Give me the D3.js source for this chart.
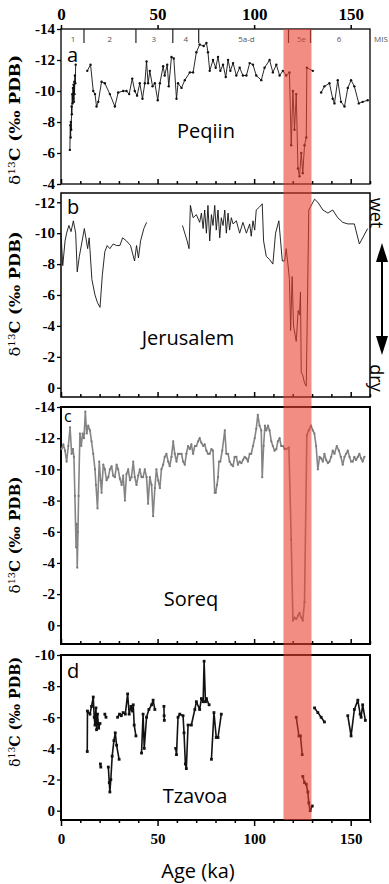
<!DOCTYPE html>
<html>
<head>
<meta charset="utf-8">
<script src="https://cdn.jsdelivr.net/npm/d3@7"></script>
<style>
  body { margin: 0; background: #fff; }
  svg { display: block; }
</style>
</head>
<body>
<div id="chart"></div>
<script>
// age (ka) and d13C values; null marks a gap in the record
const peqiinAge = [4.6, 4.8, 5.0, 5.1, 5.3, 5.5, 5.6, 5.8, 6.0, 6.2, 6.3, 6.5, 6.7, 6.9, 7.0, 7.2, 7.4, 7.6, null,
  13.6, 15.3, 16.7, 17.6, 18.4, 19.3, 21.0, 22.7, 25.3, 27.9, 29.6, 32.2, 33.9, 35.3, 36.9, 38.2, 39.4, 40.8, 42.2,
  43.4, 44.3, 45.1, 46.0, 47.4, 48.6, 50.1, 51.2, 52.9, 53.7, 55.0, 55.8, 57.2, 58.4, 59.8, 60.6, 62.4, 64.1, 66.7,
  68.4, 70.1, 71.8, 73.9, 75.3, 76.1, 77.0, 78.7, 80.1, 81.3, 82.5, 83.9, 85.3, 86.5, 87.7, 89.1, 90.8, 92.5, 94.2,
  96.0, 97.7, 99.4, 101.1, 103.7, 105.4, 108.0, 109.7, 111.5, 113.2, 114.9, 116.6, 118.3, 119.2, 120.1, 120.9, 121.8,
  122.7, 123.5, 124.4, 125.2, 126.1, 127.0, 127.3, 130.4, null,
  134.7, 136.4, 139.0, 140.7, 141.6, 143.3, 145.0, 146.8, 148.5, 150.2, 151.9, 154.2, 156.2, 158.8];
const peqiinD13C = [-6.2, -7.8, -7.0, -8.0, -7.5, -9.0, -8.5, -9.8, -9.2, -10.2, -9.5, -10.4, -9.3, -10.6, -9.8, -11.0, -10.5, -11.7, null,
  -11.3, -11.7, -10.0, -9.8, -9.0, -9.3, -10.6, -10.5, -9.8, -9.0, -9.9, -10.0, -10.0, -9.8, -10.8, -10.0, -9.7, -10.5, -9.5,
  -10.5, -11.9, -10.5, -11.3, -10.3, -10.5, -9.4, -10.5, -11.6, -11.0, -11.7, -10.3, -12.2, -12.1, -9.5, -10.5, -10.2, -10.7, -11.2,
  -11.2, -12.5, -13.0, -12.9, -13.1, -12.5, -11.3, -12.0, -11.5, -12.2, -11.3, -11.7, -10.9, -12.0, -11.3, -11.8, -11.0, -11.5, -11.0,
  -11.0, -11.8, -11.7, -11.0, -10.7, -11.5, -12.0, -11.2, -11.7, -11.0, -11.3, -11.0, -11.2, -6.5, -10.0, -7.5, -9.8,
  -5.0, -4.5, -6.0, -4.7, -6.5, -7.0, -11.5, -11.3, null,
  -9.9, -10.3, -10.5, -9.5, -9.2, -10.7, -9.3, -9.0, -10.2, -10.7, -10.3, -9.2, -9.3, -9.4];

const jerusalemAge = [0.0, 0.9, 2.1, 2.9, 4.1, 5.2, 6.4, 7.6, 8.4, 9.5, 12.1, 13.8, 14.6, 16.0, 17.6, 18.9, 20.2, 21.4, 22.7,
  23.9, 25.3, 27.0, 28.8, 30.5, 31.9, 33.9, 36.0, 38.1, 39.1, 40.1, 41.2, 42.9, 44.3, null,
  62.9, 64.1, 65.3, 66.3, 67.0, 68.4, 70.1, 71.8, 72.7, 73.6, 74.4, 75.3, 76.1, 77.0, 77.9, 78.7, 79.6, 80.4, 81.3, 82.2,
  83.0, 83.9, 84.8, 85.6, 86.5, 87.3, 88.2, 89.1, 90.8, 92.5, 94.2, 96.0, 97.7, 98.5, 99.4, 100.3, 101.1, 102.8, 104.2,
  104.9, 106.3, 108.0, 109.7, 111.1, 112.8, 114.6, 115.8, 116.6, 117.5, 118.3, 118.9, 119.7, 120.4, 121.8, 122.8, 123.5,
  124.0, 124.4, 125.2, 126.1, 127.0, 128.3, 131.3, 133.0, 135.6, 138.2, 140.7, 143.3, 145.9, 148.5, 151.9, 154.5, 156.2, 158.8];
const jerusalemD13C = [-10.0, -7.9, -9.5, -10.0, -10.5, -10.1, -10.8, -10.0, -7.5, -8.5, -10.3, -9.0, -9.7, -7.0, -6.0, -5.5, -5.2, -7.3, -8.8,
  -9.2, -9.0, -9.3, -9.2, -9.2, -9.7, -9.5, -9.2, -8.2, -9.2, -8.4, -9.5, -10.3, -10.7, null,
  -10.5, -10.0, -9.5, -9.0, -11.8, -11.0, -11.2, -10.7, -11.3, -10.3, -11.5, -10.0, -11.8, -9.5, -11.2, -10.5, -11.8, -10.2, -11.5, -9.7,
  -11.0, -10.5, -11.5, -10.0, -11.3, -10.2, -11.0, -10.6, -10.8, -10.0, -10.7, -10.0, -10.6, -9.8, -10.8, -10.2, -11.5, -11.7, -11.9,
  -9.5, -8.5, -8.3, -8.0, -10.0, -10.8, -8.2, -8.2, -9.0, -8.0, -7.0, -3.7, -7.2, -4.0, -3.0, -5.0, -4.7,
  -6.2, -1.0, -0.8, -0.3, -0.1, -11.5, -12.2, -12.0, -11.5, -11.3, -11.5, -11.0, -10.7, -10.6, -10.6, -9.3, -9.7, -10.3];

const soreqAge = [0.3, 1.2, 2.1, 2.9, 3.8, 4.7, 5.5, 6.2, 6.7, 7.2, 7.8, 8.1, 8.4, 8.8, 9.1, 9.8, 10.5, 11.2, 11.9, 12.6, 13.3,
  14.1, 15.0, 15.8, 16.7, 17.6, 18.1, 18.9, 19.8, 20.5, 21.0, 21.9, 22.7, 23.6, 24.5, 25.3, 26.2, 27.0, 27.9, 28.8, 29.6,
  30.5, 31.4, 32.2, 33.1, 33.9, 34.8, 35.7, 36.5, 37.4, 38.2, 39.1, 40.0, 40.8, 41.7, 42.5, 43.4, 44.3, 45.1, 46.0, 46.9,
  47.7, 48.6, 49.4, 50.3, 51.2, 52.0, 52.9, 53.7, 54.6, 55.5, 56.3, 57.2, 58.1, 58.9, 59.8, 60.6, 61.5, 62.4, 63.2, 64.1,
  64.9, 65.8, 66.7, 67.5, 68.4, 69.3, 70.1, 71.0, 71.8, 72.7, 73.6, 74.4, 75.3, 76.1, 77.0, 77.9, 78.7, 79.6, 80.1, 80.8,
  81.3, 81.8, 82.5, 83.5, 84.8, 85.6, 86.5, 87.3, 88.2, 89.1, 89.9, 90.8, 91.6, 92.5, 93.4, 94.2, 95.1, 96.0, 96.8, 97.7,
  98.5, 99.4, 100.3, 101.1, 101.9, 102.8, 103.7, 104.2, 104.9, 105.6, 106.3, 107.2, 108.0, 108.9, 109.7, 110.6, 111.5,
  112.3, 113.2, 114.0, 114.9, 115.8, 116.6, 118.0, 119.2, 120.1, 120.9, 121.8, 122.7, 123.5, 124.4, 125.2, 126.1, 127.3,
  128.3, 129.5, 130.4, 131.2, 132.1, 133.0, 133.9, 134.7, 135.6, 136.4, 137.3, 138.2, 139.0, 139.9, 140.7, 141.6, 142.8,
  143.9, 144.9, 145.9, 146.8, 147.6, 148.5, 149.4, 150.2, 151.1, 151.9, 152.8, 153.7, 154.5, 155.4, 156.2, 157.1];
const soreqD13C = [-11.3, -11.6, -11.2, -10.5, -11.5, -12.7, -11.0, -11.3, -10.8, -8.3, -5.0, -6.5, -3.7, -6.0, -8.3, -12.3, -11.5, -12.3, -12.0, -13.7, -12.3,
  -12.8, -12.5, -11.8, -11.0, -10.0, -9.0, -7.5, -10.5, -9.3, -8.5, -10.3, -10.0, -9.3, -9.5, -10.0, -10.2, -9.6, -9.5, -10.3, -10.0,
  -9.4, -9.0, -9.6, -8.0, -9.7, -10.0, -9.3, -9.5, -10.5, -9.5, -9.0, -9.6, -10.0, -9.5, -9.5, -10.0, -9.5, -7.8, -9.5, -9.0,
  -7.0, -8.8, -10.0, -9.3, -8.8, -10.0, -10.3, -10.8, -11.0, -10.5, -10.2, -10.8, -11.8, -11.0, -10.5, -11.0, -11.0, -11.0, -10.5, -10.3,
  -11.0, -11.5, -11.3, -11.6, -11.0, -11.5, -11.5, -11.8, -12.0, -11.7, -11.5, -11.6, -11.2, -11.0, -11.0, -11.3, -11.2, -8.5, -8.5, -9.0,
  -9.5, -10.5, -10.5, -11.2, -12.5, -11.0, -11.0, -10.5, -10.3, -10.2, -10.8, -10.8, -10.3, -10.5, -10.4, -10.6, -10.8, -10.7, -10.5, -11.0,
  -11.0, -11.5, -12.0, -12.6, -13.5, -12.8, -12.5, -9.5, -11.5, -12.8, -12.5, -12.8, -12.5, -11.8, -11.5, -11.2, -11.3,
  -11.8, -12.0, -11.5, -11.5, -11.3, -11.3, -11.4, -5.5, -0.3, -0.5, -0.4, -0.6, -0.8, -0.5, -0.3, -1.5, -12.2,
  -12.5, -12.8, -12.5, -12.3, -11.5, -10.0, -10.8, -10.7, -10.5, -11.0, -10.6, -10.4, -10.5, -10.8, -11.2, -11.0, -11.5,
  -11.2, -10.8, -10.3, -10.8, -11.0, -11.2, -10.8, -10.5, -10.5, -10.8, -10.6, -10.8, -11.0, -10.7, -10.5, -10.8];

const tzavoaAge = [13.6, 13.7, 15.0, 15.8, 16.7, 17.2, 17.6, 18.1, 18.4, 18.9, 19.5, 20.2, null,
  20.4, 20.6, null, 22.7, 23.3, null,
  24.5, 25.0, 25.3, 25.8, 26.5, 27.4, 28.1, 28.8, 30.1, null,
  29.3, 30.3, 31.2, 32.2, 33.3, 34.5, 35.3, 36.2, 37.0, 37.4, 37.9, 38.8, null,
  41.7, 42.5, 43.1, 44.3, 45.5, 46.9, 47.7, 48.6, null,
  53.3, 53.4, 53.5, null,
  59.4, 59.8, 60.6, 61.5, 63.2, 63.7, 64.4, 64.9, 65.8, 67.5, 69.3, 70.1, 71.8, 72.7, 73.6, 74.1, 74.8, 75.3, 76.7, null,
  77.9, 79.2, 80.4, 81.3, 83.0, null,
  121.8, 123.2, 124.0, 124.9, null,
  125.2, 126.1, 127.0, 127.8, 128.3, 129.0, 130.1, null,
  131.3, 133.0, 134.7, 136.4, null,
  148.5, 150.2, 151.9, 153.7, 154.9, 155.4, 156.2, 157.6];
const tzavoaD13C = [-3.8, -6.4, -6.2, -6.7, -7.3, -6.0, -5.5, -6.6, -5.2, -6.2, -5.3, -5.6, null,
  -3.0, -2.8, null, -6.2, -6.0, null,
  -2.8, -1.8, -1.2, -2.0, -3.5, -4.5, -5.0, -4.2, -3.3, null,
  -6.0, -6.2, -6.1, -6.3, -6.2, -7.5, -6.2, -6.7, -6.4, -6.8, -5.5, -4.8, null,
  -3.7, -6.2, -4.0, -6.0, -6.5, -6.8, -7.1, -6.5, null,
  -6.7, -6.1, -5.8, null,
  -4.0, -3.6, -6.0, -6.2, -6.1, -5.0, -3.0, -2.7, -5.5, -5.5, -6.5, -7.0, -6.5, -7.2, -7.0, -9.6, -7.0, -7.2, -6.8, null,
  -3.3, -6.3, -4.7, -4.7, -6.2, null,
  -6.0, -4.8, -4.8, -3.6, null,
  -2.2, -1.8, -1.7, -1.2, -0.5, 0.0, -0.3, null,
  -6.6, -6.3, -6.0, -5.7, null,
  -6.1, -4.8, -6.5, -7.1, -6.2, -6.0, -6.8, -5.8];

const panelNames = ["Peqiin", "Jerusalem", "Soreq", "Tzavoa"];
const panelLetters = ["a", "b", "c", "d"];
const yTicksA = [-14, -12, -10, -8, -6, -4];
const yTicksB = [-12, -10, -8, -6, -4, -2, 0];
const yTicksC = [-14, -12, -10, -8, -6, -4, -2, 0];
const yTicksD = [-10, -8, -6, -4, -2, 0];
const ageMajorTicks = [0, 50, 100, 150];
const ageMinorTicks = [10, 20, 30, 40, 60, 70, 80, 90, 110, 120, 130, 140, 160];

// marine isotope stages
const misBoundaries = [11.9, 38.8, 57.9, 71.3, 117.8, 129.2];
const misLabels = ["1", "2", "3", "4", "5a-d", "5e", "6"];
const misLabelAge = [6.2, 25.3, 48, 64.6, 96, 124.5, 144];

// highlighted interval (MIS 5e)
const bandAges = [115.2, 129.7];

const W = 389, H = 884;
const svg = d3.select("#chart").append("svg")
  .attr("width", W).attr("height", H)
  .style("font-family", "'Open Sans', sans-serif");

const x = d3.scaleLinear().domain([0, 160]).range([61, 370]);

const panels = [
  { age: peqiinAge, val: peqiinD13C, top: 29, bottom: 184, domain: [-14, -4], ticks: yTicksA,
    stroke: "#111", width: 0.9, marker: "dot", border: 1.3, labelLen: 130, labelY: 120,
    letter: [67, 62, 20], name: [206, 138] },
  { age: jerusalemAge, val: jerusalemD13C, top: 193, bottom: 397, domain: [-12.6, 0.6], ticks: yTicksB,
    stroke: "#111", width: 0.9, marker: null, border: 1.5, labelLen: 125, labelY: 294,
    letter: [67, 214, 20], name: [188, 345] },
  { age: soreqAge, val: soreqD13C, top: 407, bottom: 644, domain: [-14, 1.2], ticks: yTicksC,
    stroke: "#858585", width: 1.6, marker: "grey", border: 2, labelLen: 117, labelY: 535,
    letter: [64, 422, 16], name: [191, 606] },
  { age: tzavoaAge, val: tzavoaD13C, top: 655, bottom: 820, domain: [-10, 0.6], ticks: yTicksD,
    stroke: "#111", width: 1.6, marker: "square", border: 2, labelLen: 110, labelY: 712,
    letter: [67, 678, 20], name: [195, 803] }
];

panels.forEach((p, i) => {
  const y = d3.scaleLinear().domain(p.domain).range([p.top, p.bottom]);
  const g = svg.append("g");

  // frame
  g.append("rect")
    .attr("x", x(0)).attr("y", p.top)
    .attr("width", x(160) - x(0)).attr("height", p.bottom - p.top)
    .attr("fill", "none").attr("stroke", "#000").attr("stroke-width", p.border);

  // left axis
  const yAxis = g.append("g")
    .attr("transform", `translate(${x(0)},0)`)
    .call(d3.axisLeft(y).tickValues(p.ticks).tickSize(4).tickFormat(d => String(d)));
  yAxis.select(".domain").remove();
  yAxis.selectAll("line").attr("stroke-width", 1.3);
  yAxis.selectAll("text")
    .style("font-family", "'Liberation Serif', serif")
    .style("font-weight", "bold").style("font-size", "15px").attr("x", -6);

  // bottom ticks
  const inward = i < 3;
  const major = g.append("g").attr("transform", `translate(0,${p.bottom})`)
    .call(d3.axisBottom(x).tickValues(ageMajorTicks).tickSize(inward ? -5 : 6)
      .tickFormat(inward ? "" : d => String(d)));
  const minor = g.append("g").attr("transform", `translate(0,${p.bottom})`)
    .call(d3.axisBottom(x).tickValues(ageMinorTicks).tickSize(inward ? -3 : 3).tickFormat(""));
  [major, minor].forEach(a => {
    a.select(".domain").remove();
    a.selectAll("line").attr("stroke-width", 1.5);
  });
  major.selectAll("text")
    .style("font-family", "'Liberation Serif', serif")
    .style("font-weight", "bold").style("font-size", "15px").attr("y", 13);

  // record
  const pts = p.age.map((a, k) => ({ a: a, v: p.val[k] }));
  const line = d3.line().defined(d => d.a !== null && d.v !== null)
    .x(d => x(d.a)).y(d => y(d.v));
  g.append("path").datum(pts)
    .attr("d", line).attr("fill", "none")
    .attr("stroke", p.stroke).attr("stroke-width", p.width).attr("stroke-linejoin", "round");

  const valid = pts.filter(d => d.a !== null);
  if (p.marker === "dot") {
    g.selectAll("circle.m").data(valid).join("circle")
      .attr("cx", d => x(d.a)).attr("cy", d => y(d.v)).attr("r", 1.2).attr("fill", "#111");
  } else if (p.marker === "grey") {
    g.selectAll("circle.m").data(valid).join("circle")
      .attr("cx", d => x(d.a)).attr("cy", d => y(d.v)).attr("r", 1.1).attr("fill", "#7a7a7a");
  } else if (p.marker === "square") {
    g.selectAll("rect.m").data(valid).join("rect")
      .attr("x", d => x(d.a) - 1.4).attr("y", d => y(d.v) - 1.4)
      .attr("width", 2.8).attr("height", 2.8).attr("fill", "#111");
  }

  // y label
  const lab = svg.append("text")
    .attr("transform", `translate(20,${p.labelY}) rotate(-90)`)
    .attr("text-anchor", "middle")
    .attr("textLength", p.labelLen).attr("lengthAdjust", "spacingAndGlyphs")
    .style("font-family", "'DejaVu Serif', serif")
    .style("font-size", "14px");
  lab.append("tspan").text("δ");
  lab.append("tspan").attr("dy", -5).style("font-size", "9px").text("13");
  lab.append("tspan").attr("dy", 5).style("font-weight", "bold").text("C (‰ PDB)");

  // panel letter and site name
  svg.append("text").attr("x", p.letter[0]).attr("y", p.letter[1])
    .style("font-size", p.letter[2] + "px").text(panelLetters[i]);
  svg.append("text").attr("x", p.name[0]).attr("y", p.name[1])
    .attr("text-anchor", "middle").style("font-size", "20px").text(panelNames[i]);
});

// top age axis on panel a
const topAxis = svg.append("g").attr("transform", "translate(0,29)")
  .call(d3.axisTop(x).tickValues(ageMajorTicks).tickSize(4).tickFormat(d => String(d)));
topAxis.select(".domain").remove();
topAxis.selectAll("line").attr("stroke-width", 1.5);
topAxis.selectAll("text")
  .style("font-family", "'Liberation Serif', serif")
  .style("font-weight", "bold").style("font-size", "17px").attr("y", -9);

// MIS boundaries and labels
svg.append("g").selectAll("line").data(misBoundaries).join("line")
  .attr("x1", d => x(d)).attr("x2", d => x(d))
  .attr("y1", 29).attr("y2", 43).attr("stroke", "#222").attr("stroke-width", 1.2);
svg.append("g").selectAll("text").data(misLabels).join("text")
  .attr("x", (d, k) => x(misLabelAge[k])).attr("y", 42)
  .attr("text-anchor", "middle").attr("fill", "#555").style("font-size", "8px")
  .text(d => d);
svg.append("text").attr("x", 374).attr("y", 42).attr("fill", "#555")
  .style("font-size", "8px").text("MIS");

// shaded interval over all panels
svg.append("rect")
  .attr("x", x(bandAges[0])).attr("y", 29)
  .attr("width", x(bandAges[1]) - x(bandAges[0])).attr("height", 820 - 29)
  .attr("fill", "#e8412f").attr("fill-opacity", 0.6);

// wet / dry arrow
svg.append("text").attr("transform", "translate(376,213) rotate(90)")
  .attr("text-anchor", "middle").attr("dy", "0.35em").style("font-size", "18px").text("wet");
svg.append("text").attr("transform", "translate(376,378) rotate(90)")
  .attr("text-anchor", "middle").attr("dy", "0.35em").style("font-size", "18px").text("dry");
svg.append("line").attr("x1", 382).attr("x2", 382).attr("y1", 255).attr("y2", 345)
  .attr("stroke", "#000").attr("stroke-width", 2);
svg.append("path").attr("d", "M382,243 L376,262 L388,262 Z").attr("fill", "#000");
svg.append("path").attr("d", "M382,355 L376,336 L388,336 Z").attr("fill", "#000");

// x-axis title
svg.append("text").attr("x", 198).attr("y", 878).attr("text-anchor", "middle")
  .style("font-size", "20px").text("Age (ka)");
</script>
</body>
</html>
